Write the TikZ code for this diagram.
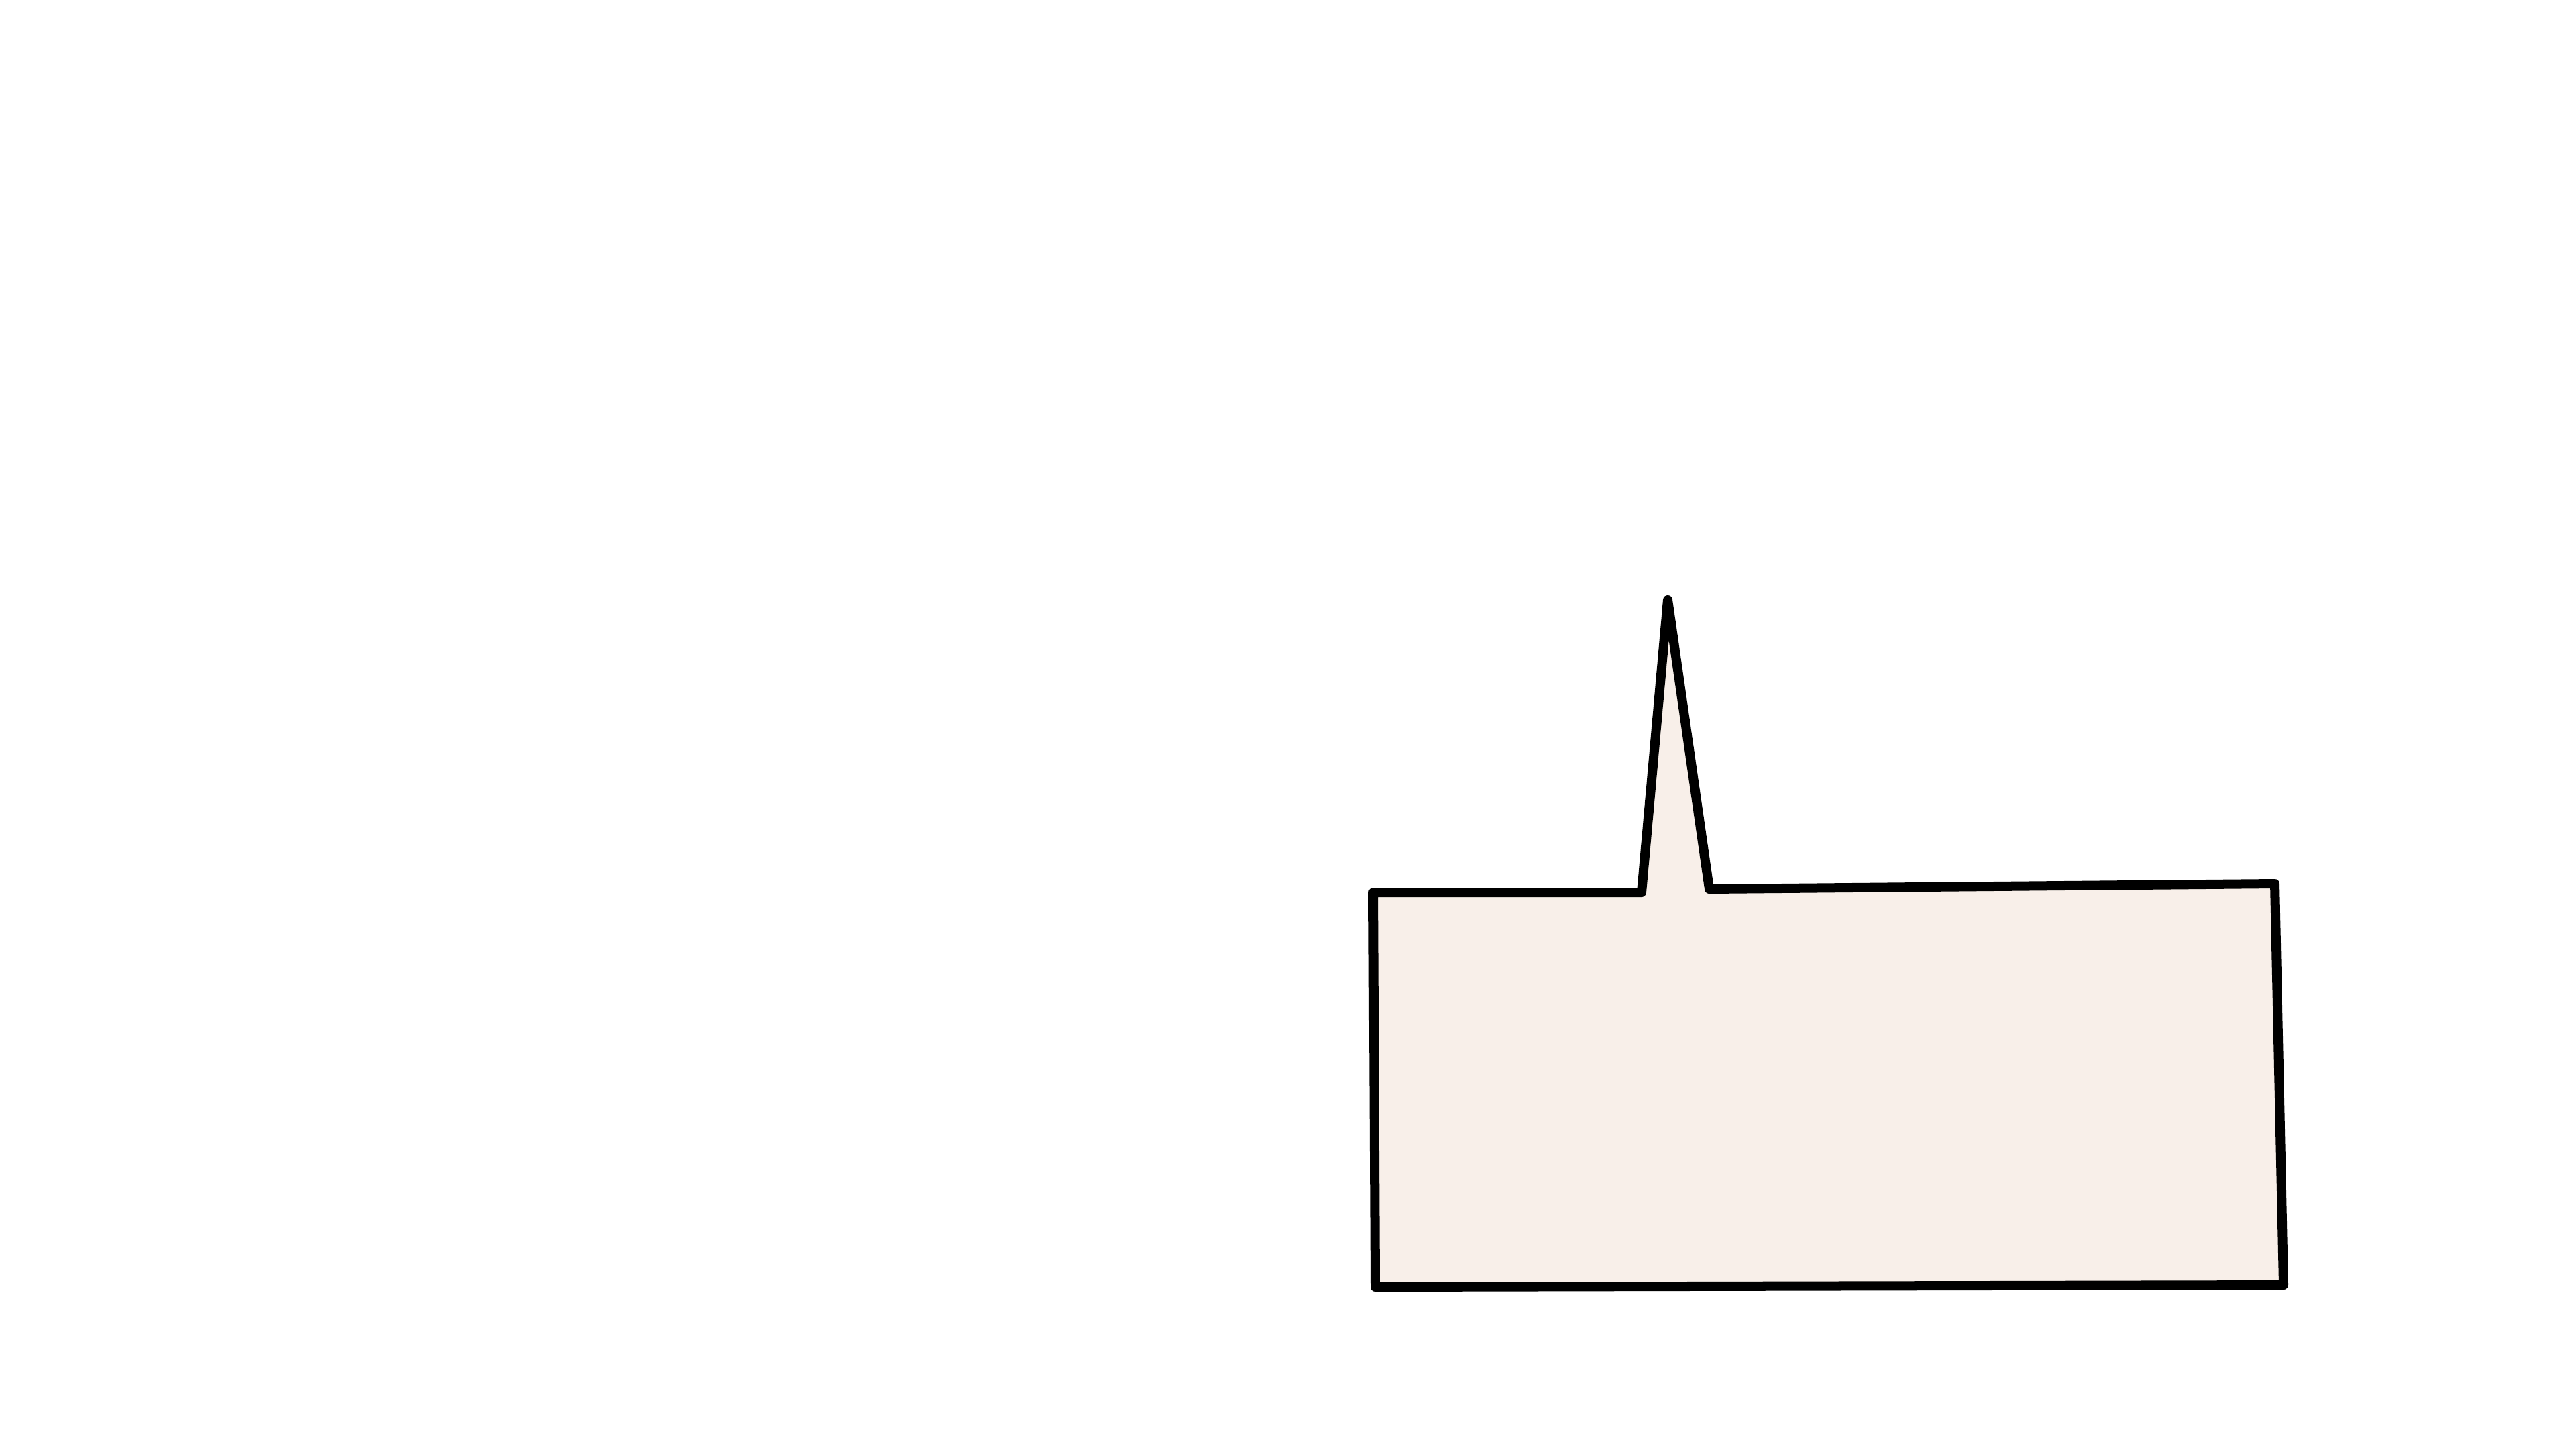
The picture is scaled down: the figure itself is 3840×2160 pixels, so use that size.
\documentclass[tikz,border=0pt]{standalone}
\definecolor{bubblefill}{RGB}{248,239,233}
\tikzset{bubble/.style={draw=black, fill=bubblefill, line width=0.14cm, line join=round, line cap=round}}
\begin{document}
\begin{tikzpicture}[x=0.01cm,y=-0.01cm]
\useasboundingbox (0,0) rectangle (3840,2160);
\coordinate (tl) at (2047,1330);
\coordinate (bl1) at (2447,1330);
\coordinate (apex) at (2486,894);
\coordinate (br1) at (2548,1325);
\coordinate (tr) at (3391,1317);
\coordinate (brc) at (3404,1915);
\coordinate (blc) at (2050,1918);
\draw[bubble] (tl) -- (bl1) -- (apex) -- (br1) -- (tr) -- (brc) -- (blc) -- cycle;
\end{tikzpicture}
\end{document}
